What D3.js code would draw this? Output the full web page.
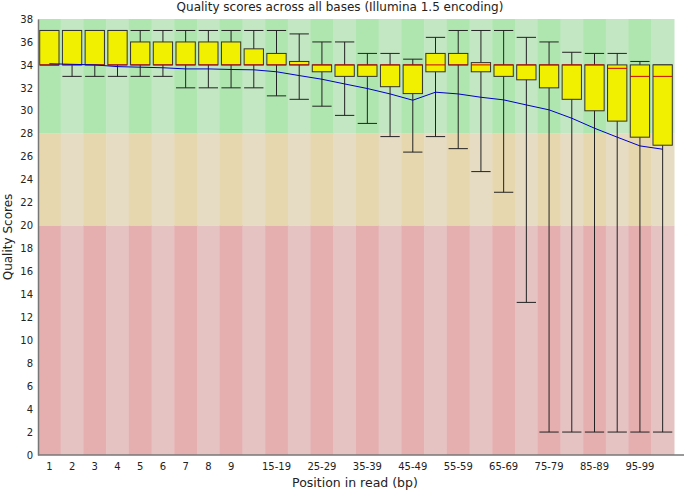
<!DOCTYPE html>
<html>
<head>
    <title>Quality scores across all bases</title>
    <script src="https://d3js.org/d3.v7.min.js"></script>
    <style>
        body { margin: 0; background: #fff; }
        text { font-family: "DejaVu Sans", sans-serif; }
    </style>
</head>
<body>
<script>
    // positions in read (bases 1-9, then 5bp groups)
    var categories = ["1", "2", "3", "4", "5", "6", "7", "8", "9",
        "10-14", "15-19", "20-24", "25-29", "30-34", "35-39", "40-44", "45-49",
        "50-54", "55-59", "60-64", "65-69", "70-74", "75-79", "80-84", "85-89",
        "90-94", "95-99", "100-101"];
    var shownLabels = ["1", "2", "3", "4", "5", "6", "7", "8", "9",
        "15-19", "25-29", "35-39", "45-49", "55-59", "65-69", "75-79", "85-89", "95-99"];
    var yTicks = d3.range(0, 39, 2);

    var lower10 = [34, 33, 33, 33, 33, 33, 32, 32, 32, 32, 31.3, 31, 30.4, 29.6, 28.9, 27.75,
        26.4, 27.75, 26.7, 24.7, 22.9, 13.3, 2, 2, 2, 2, 2, 2];
    var quart1 = [34, 34, 34, 34, 34, 34, 34, 34, 34, 34, 34, 34, 33.4, 33, 33, 32.1,
        31.5, 33.4, 34, 33.4, 33, 32.7, 32, 31, 30, 29.1, 27.7, 27];
    var medians = [34, 34, 34, 34, 34, 34, 34, 34, 34, 34, 34, 34, 34, 34, 34, 34,
        34, 34, 34, 34, 34, 34, 34, 34, 34, 33.7, 33, 33];
    var quart3 = [37, 37, 37, 37, 36, 36, 36, 36, 36, 35.4, 35, 34.3, 34, 34, 34, 34,
        34, 35, 35, 34.2, 34, 34, 34, 34, 34, 34, 34, 34];
    var upper90 = [37, 37, 37, 37, 37, 37, 37, 37, 37, 37, 37, 36.7, 36, 36, 35, 35,
        34.5, 36.4, 37, 37, 37, 36.4, 36, 35.1, 35, 35, 34.3, 34];
    var means = [34.1, 34.05, 34.0, 33.85, 33.8, 33.75, 33.65, 33.65, 33.6, 33.57, 33.4, 33.07,
        32.75, 32.34, 31.94, 31.47, 30.92, 31.62, 31.47, 31.18, 30.95, 30.51, 30.08, 29.35,
        28.48, 27.7, 26.94, 26.65];

    var width = 685, height = 491;
    var plotL = 38, plotR = 674, plotT = 19, plotB = 455;

    var svg = d3.select("body").append("svg")
        .attr("width", width)
        .attr("height", height);

    var x = d3.scaleBand().domain(categories).range([plotL, plotR]);
    var y = d3.scaleLinear().domain([0, 38]).range([plotB, plotT]);

    // quality zones, alternating light/dark per column
    var zones = [
        {from: 28, to: 38, light: "rgb(195,230,195)", dark: "rgb(175,230,175)"},
        {from: 20, to: 28, light: "rgb(230,220,195)", dark: "rgb(230,215,175)"},
        {from: 0, to: 20, light: "rgb(230,195,195)", dark: "rgb(230,175,175)"}
    ];
    zones.forEach(function(z) {
        svg.append("g").selectAll("rect")
            .data(categories)
            .join("rect")
            .attr("x", function(d) { return x(d); })
            .attr("width", x.bandwidth() + 0.5)
            .attr("y", y(z.to))
            .attr("height", y(z.from) - y(z.to))
            .attr("fill", function(d, i) { return i % 2 == 0 ? z.dark : z.light; });
    });

    var boxW = x.bandwidth() * 0.85;
    var cx = function(i) { return x(categories[i]) + x.bandwidth() / 2; };

    var g = svg.append("g").selectAll("g")
        .data(categories)
        .join("g");

    // whiskers
    g.append("line")
        .attr("x1", function(d, i) { return cx(i); })
        .attr("x2", function(d, i) { return cx(i); })
        .attr("y1", function(d, i) { return y(upper90[i]); })
        .attr("y2", function(d, i) { return y(lower10[i]); })
        .attr("stroke", "#222");
    [upper90, lower10].forEach(function(arr) {
        g.append("line")
            .attr("x1", function(d, i) { return cx(i) - boxW / 2; })
            .attr("x2", function(d, i) { return cx(i) + boxW / 2; })
            .attr("y1", function(d, i) { return y(arr[i]); })
            .attr("y2", function(d, i) { return y(arr[i]); })
            .attr("stroke", "#222");
    });

    // boxes
    g.append("rect")
        .attr("x", function(d, i) { return cx(i) - boxW / 2; })
        .attr("width", boxW)
        .attr("y", function(d, i) { return y(quart3[i]); })
        .attr("height", function(d, i) { return y(quart1[i]) - y(quart3[i]); })
        .attr("fill", "rgb(240,240,0)")
        .attr("stroke", "#333");

    // medians
    g.append("line")
        .attr("x1", function(d, i) { return cx(i) - boxW / 2; })
        .attr("x2", function(d, i) { return cx(i) + boxW / 2; })
        .attr("y1", function(d, i) { return y(medians[i]); })
        .attr("y2", function(d, i) { return y(medians[i]); })
        .attr("stroke", "rgb(200,0,0)");

    // mean line
    var meanLine = d3.line()
        .x(function(d, i) { return cx(i); })
        .y(function(d) { return y(d); });
    svg.append("path")
        .attr("d", meanLine(means))
        .attr("fill", "none")
        .attr("stroke", "rgb(0,0,200)")
        .attr("stroke-width", 1);

    // axes
    var yAxis = svg.append("g")
        .attr("transform", "translate(" + plotL + ",0)")
        .call(d3.axisLeft(y).tickValues(yTicks).tickSize(0).tickPadding(5));
    yAxis.select(".domain").attr("stroke", "#777").attr("stroke-width", 1.5);
    yAxis.selectAll("text").attr("font-size", 10).attr("fill", "#222")
        .attr("font-family", "DejaVu Sans");

    var xAxis = svg.append("g")
        .attr("transform", "translate(0," + plotB + ")")
        .call(d3.axisBottom(x).tickValues(shownLabels).tickSize(0).tickPadding(8));
    xAxis.select(".domain").attr("stroke", "#777").attr("stroke-width", 1.5)
        .attr("d", "M" + plotL + ",0H" + (width - 1));
    xAxis.selectAll("text").attr("font-size", 10).attr("fill", "#222")
        .attr("font-family", "DejaVu Sans");

    // titles
    svg.append("text")
        .attr("x", 340).attr("y", 11)
        .attr("text-anchor", "middle")
        .attr("font-size", 12)
        .attr("fill", "#222")
        .text("Quality scores across all bases (Illumina 1.5 encoding)");

    svg.append("text")
        .attr("x", 355).attr("y", 487)
        .attr("text-anchor", "middle")
        .attr("font-size", 12.5)
        .attr("fill", "#222")
        .text("Position in read (bp)");

    svg.append("text")
        .attr("transform", "translate(12,237) rotate(-90)")
        .attr("text-anchor", "middle")
        .attr("font-size", 12)
        .attr("fill", "#222")
        .text("Quality Scores");
</script>
</body>
</html>
